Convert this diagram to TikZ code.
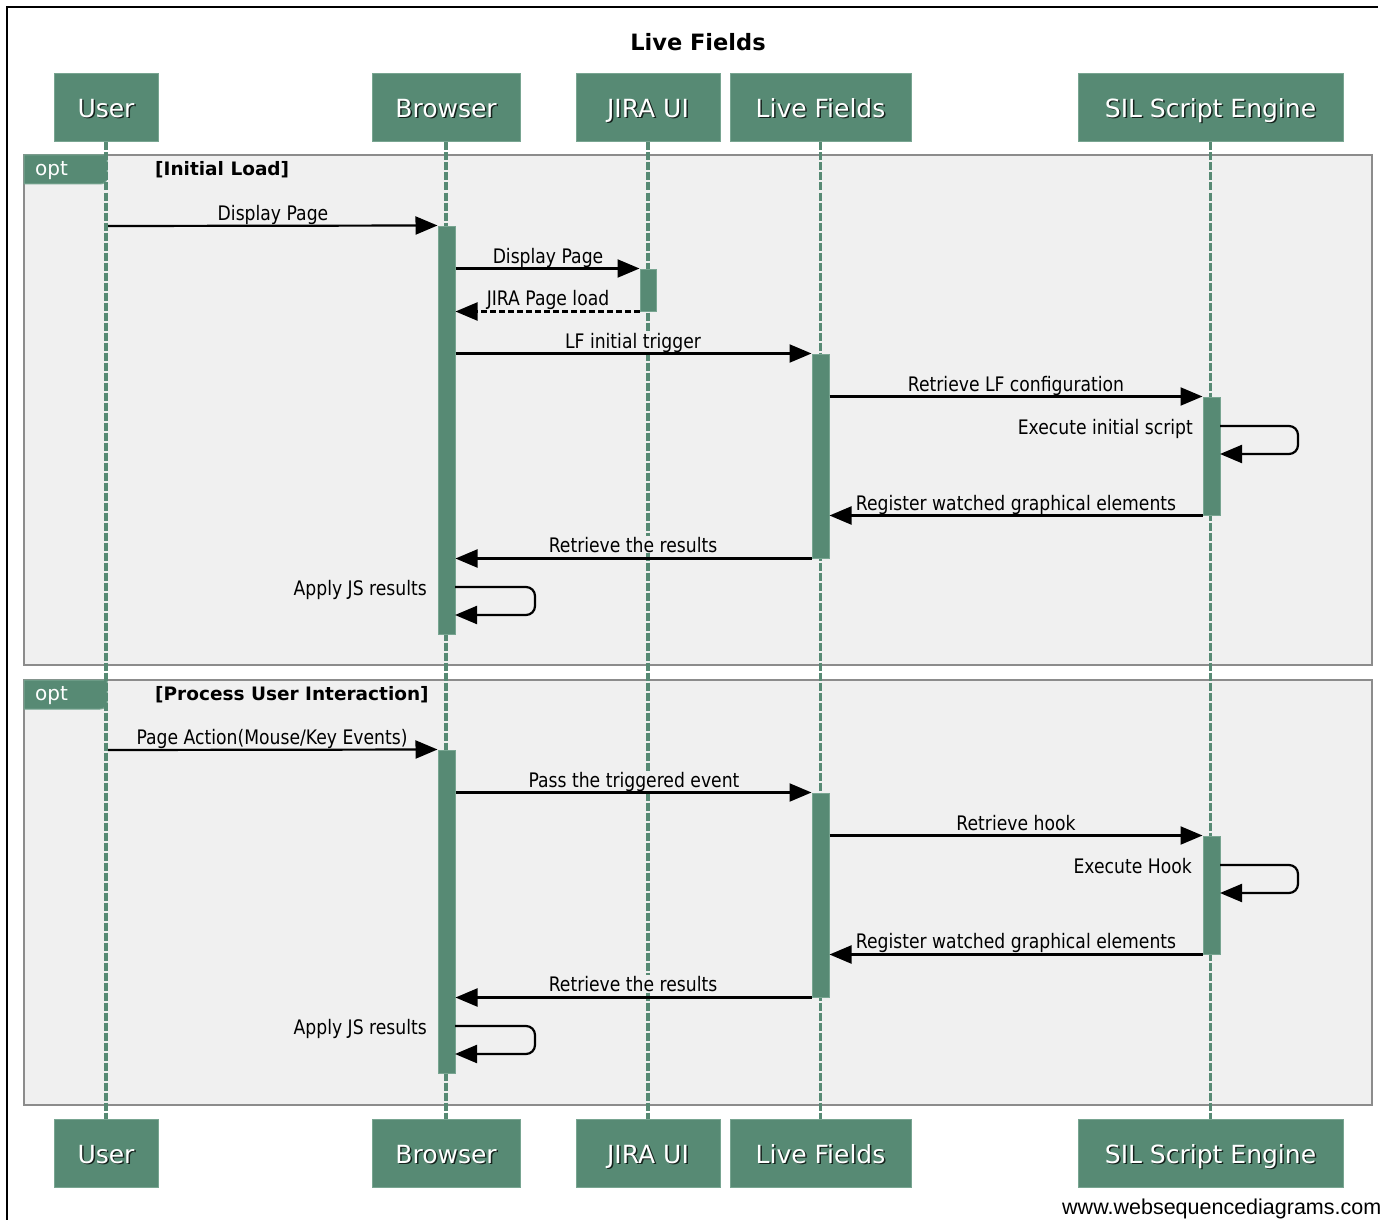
\documentclass[tikz,border=0pt]{standalone}
\usepackage{fontspec}
\setmainfont{DejaVu Sans}
\newfontfamily\msgfont[FakeStretch=0.86]{DejaVu Sans}
\newfontfamily\wmfont{Liberation Sans}
\usetikzlibrary{arrows.meta}
\definecolor{lfgreen}{RGB}{87,138,116}
\definecolor{lfborder}{RGB}{120,165,145}
\definecolor{framebg}{RGB}{240,240,240}
\definecolor{framegray}{RGB}{140,140,140}
\newcommand{\shtext}[1]{\makebox[0pt][l]{\hspace{1.5pt}\raisebox{-1.5pt}{\color{black!75!lfgreen}#1}}{\color{white}#1}}
\begin{document}
\begin{tikzpicture}[x=1pt,y=-1pt,
  part/.style={fill=lfgreen, draw=lfborder, line width=1pt, minimum height=68pt, inner sep=0pt,
    text height=21pt, text depth=2pt, font=\fontsize{25}{30}\selectfont},
  act/.style={fill=lfgreen, draw=lfborder, line width=1pt, minimum width=17pt, inner sep=0pt},
  life/.style={draw=lfgreen, line width=3.2pt, dash pattern=on 8pt off 2pt},
  frm/.style={fill=framebg, draw=framegray, line width=2.2pt, inner sep=0pt},
  msg/.style={black, line width=2.2pt, -{Triangle[length=22pt,width=18pt]}},
  ret/.style={msg, dash pattern=on 6pt off 3pt},
  lbl/.style={font=\msgfont\fontsize{20}{24}\selectfont, anchor=base, fill=framebg, inner sep=0.5pt},
  lpl/.style={font=\msgfont\fontsize{20}{24}\selectfont, anchor=base east, inner sep=0pt},
  cond/.style={font=\bfseries\fontsize{18.5}{22}\selectfont, anchor=west, inner sep=0pt},
  opttab/.style={fill=lfgreen, draw=lfborder, line width=1pt},
  opttxt/.style={font=\fontsize{20}{24}\selectfont, text=white, anchor=west, inner sep=0pt}
]
\useasboundingbox (0,0) rectangle (1390,1220);
\fill[white] (0,0) rectangle (1390,1220);
\draw[black, line width=2pt] (7,1222) -- (7,7) -- (1378,7);

% title
\node[font=\bfseries\fontsize{22.5}{26}\selectfont] (title) at (698,42) {Live Fields};

% frames
\node[frm, minimum width=1348pt, minimum height=510pt] (f1) at (698,410) {};
\node[frm, minimum width=1348pt, minimum height=425pt] (f2) at (698,892.5) {};
\draw[opttab] (24,155) -- (107,155) -- (107,178) to[out=-90,in=0] (100,184) -- (24,184) -- cycle;
\draw[opttab] (24,680) -- (107,680) -- (107,703) to[out=-90,in=0] (100,709) -- (24,709) -- cycle;
\node[opttxt] (o1) at (35,171) {opt};
\node[opttxt] (o2) at (35,696) {opt};
\node[cond] (c1) at (155,170) {[Initial Load]};
\node[cond] (c2) at (155,695) {[Process User Interaction]};

% participants
\node[part, minimum width=104pt] (uT) at (106,108) {\shtext{User}};
\node[part, minimum width=148pt] (bT) at (446,108) {\shtext{Browser}};
\node[part, minimum width=144pt] (jT) at (648,108) {\shtext{JIRA UI}};
\node[part, minimum width=181pt] (lT) at (820.5,108) {\shtext{Live Fields}};
\node[part, minimum width=265pt] (sT) at (1210.5,108) {\shtext{SIL Script Engine}};
\node[part, minimum width=104pt] (uB) at (106,1153.5) {\shtext{User}};
\node[part, minimum width=148pt] (bB) at (446,1153.5) {\shtext{Browser}};
\node[part, minimum width=144pt] (jB) at (648,1153.5) {\shtext{JIRA UI}};
\node[part, minimum width=181pt] (lB) at (820.5,1153.5) {\shtext{Live Fields}};
\node[part, minimum width=265pt] (sB) at (1210.5,1153.5) {\shtext{SIL Script Engine}};

% lifelines
\foreach \a/\b in {uT/uB, bT/bB, jT/jB, lT/lB, sT/sB} {
  \draw[life] (\a.south) -- (\b.north);
}

% message labels (drawn under arrows)
\node[lbl] (t1) at (273,220) {Display Page};
\node[lbl] (t2) at (548,263) {Display Page};
\node[lbl] (t3) at (548,305) {JIRA Page load};
\node[lbl] (t4) at (633,348) {LF initial trigger};
\node[lbl] (t5) at (1016,391) {Retrieve LF configuration};
\node[lpl] (t6) at (1193,434) {Execute initial script};
\node[lbl] (t7) at (1016,510) {Register watched graphical elements};
\node[lbl] (t8) at (633,552) {Retrieve the results};
\node[lpl] (t9) at (427,595) {Apply JS results};
\node[lbl] (u1) at (272,744) {Page Action(Mouse/Key Events)};
\node[lbl] (u2) at (634,787) {Pass the triggered event};
\node[lbl] (u3) at (1016,830) {Retrieve hook};
\node[lpl] (u4) at (1192,873) {Execute Hook};
\node[lbl] (u5) at (1016,948) {Register watched graphical elements};
\node[lbl] (u6) at (633,991) {Retrieve the results};
\node[lpl] (u7) at (427,1034) {Apply JS results};

% activations
\node[act, minimum height=408pt] (b1) at (446.5,430) {};
\node[act, minimum height=42pt, minimum width=16pt] (j1) at (648,290) {};
\node[act, minimum height=204pt] (l1) at (820.5,456) {};
\node[act, minimum height=118pt] (s1) at (1211.5,456) {};
\node[act, minimum height=323pt] (b2) at (446.5,911.5) {};
\node[act, minimum height=204pt] (l2) at (820.5,895) {};
\node[act, minimum height=118pt] (s2) at (1211.5,895) {};

% coordinates for free ends
\coordinate (uA) at (108,226);
\coordinate (uC) at (108,750);
\coordinate (s1a) at (1220,426);
\coordinate (s1b) at (1220,454);
\coordinate (b1a) at (455,587);
\coordinate (b1b) at (455,615);
\coordinate (s2a) at (1220,865);
\coordinate (s2b) at (1220,893);
\coordinate (b2a) at (455,1026);
\coordinate (b2b) at (455,1054);

% messages: frame 1
\draw[msg] (uA) -- (b1.north west);
\draw[msg] (b1.east |- j1.north) -- (j1.north west);
\draw[ret] (j1.south west) -- (b1.east |- j1.south);
\draw[msg] (b1.east |- l1.north) -- (l1.north west);
\draw[msg] (l1.east |- s1.north) -- (s1.north west);
\draw[msg, rounded corners=9pt] (s1a) -- (1298,426) -- (1298,454) -- (s1b);
\draw[msg] (s1.south west) -- (l1.east |- s1.south);
\draw[msg] (l1.south west) -- (b1.east |- l1.south);
\draw[msg, rounded corners=9pt] (b1a) -- (535,587) -- (535,615) -- (b1b);

% messages: frame 2
\draw[msg] (uC) -- (b2.north west);
\draw[msg] (b2.east |- l2.north) -- (l2.north west);
\draw[msg] (l2.east |- s2.north) -- (s2.north west);
\draw[msg, rounded corners=9pt] (s2a) -- (1298,865) -- (1298,893) -- (s2b);
\draw[msg] (s2.south west) -- (l2.east |- s2.south);
\draw[msg] (l2.south west) -- (b2.east |- l2.south);
\draw[msg, rounded corners=9pt] (b2a) -- (535,1026) -- (535,1054) -- (b2b);

% watermark
\node[font=\wmfont\fontsize{21.5}{24}\selectfont, anchor=west, inner sep=0pt] (wm) at (1062,1209) {www.websequencediagrams.com};
\end{tikzpicture}
\end{document}
